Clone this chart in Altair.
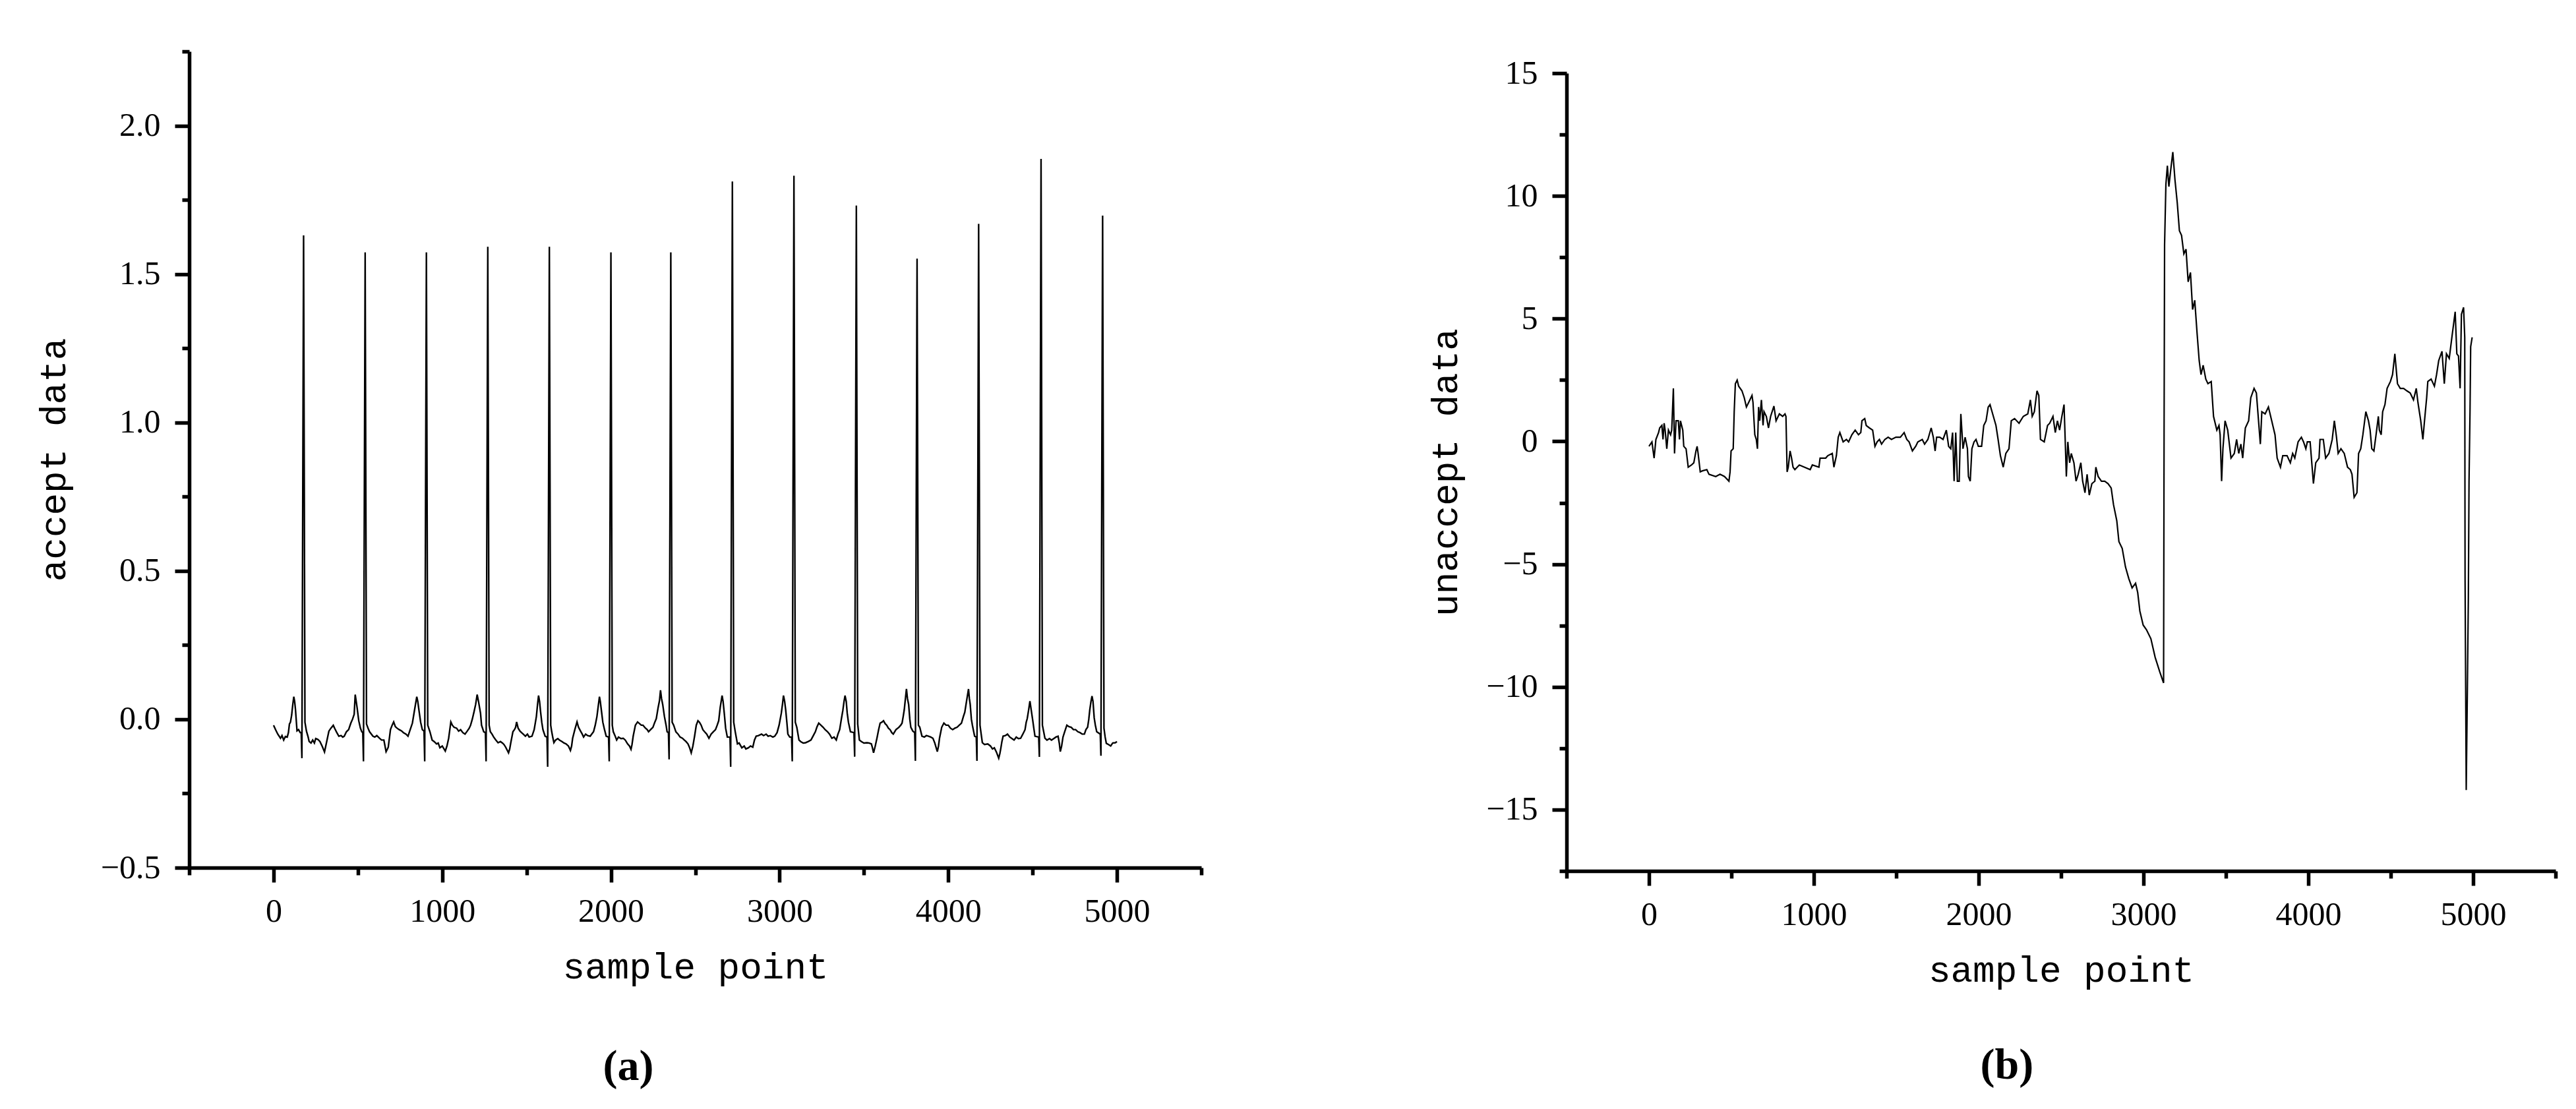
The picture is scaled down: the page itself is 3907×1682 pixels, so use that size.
import altair as alt
import pandas as pd

# ---------------- panel (a): accepted ECG segment ----------------
A_X = [
    0, 12, 25, 41, 50, 60, 70, 81, 88, 94, 100, 107, 114, 120, 125, 130, 139, 148, 158, 164, 168, 178, 186, 195,
    205, 211, 222, 232, 242, 250, 263, 275, 289, 302, 315, 328, 340, 354, 362, 375, 387, 400, 410, 419, 432, 445,
    458, 468, 478, 484, 490, 495, 505, 515, 523, 529, 533, 543, 551, 560,
    569, 580, 589, 600, 612, 628, 640, 654, 667, 675, 680, 693, 703, 712, 722, 732, 745, 758, 770, 785, 797, 810,
    823, 836, 849, 855, 862, 872, 882, 892, 896, 906, 914, 927,
    940, 952, 966, 976, 986, 1000, 1018, 1028, 1038, 1051, 1060, 1070, 1085, 1097, 1109, 1122, 1135, 1148, 1160,
    1168, 1178, 1188, 1198, 1207, 1215, 1227, 1233, 1246, 1256, 1260, 1270, 1278, 1285,
    1295, 1305, 1318, 1331, 1345, 1357, 1366, 1376, 1393, 1400, 1406, 1419, 1428, 1435, 1441, 1450, 1461, 1470,
    1480, 1493, 1505, 1515, 1532, 1545, 1558, 1565, 1571, 1577, 1582, 1590, 1597, 1610, 1621, 1625, 1635, 1643, 1649,
    1655, 1662, 1672, 1685, 1695, 1710, 1722, 1734, 1748, 1760, 1767, 1773, 1786, 1799, 1808, 1820, 1830, 1838,
    1850, 1862, 1877, 1897, 1907, 1917, 1925, 1932, 1937, 1943, 1952, 1962, 1972, 1986, 1990, 2000, 2008, 2014,
    2024, 2034, 2045, 2060, 2073, 2085, 2099, 2110, 2119, 2125, 2132, 2145, 2158, 2170, 2180, 2190, 2205, 2215,
    2223, 2235, 2249, 2260, 2269, 2280, 2288, 2294, 2300, 2307, 2317, 2327, 2333, 2341, 2345, 2355, 2363, 2372,
    2385, 2398, 2410, 2424, 2435, 2445, 2457, 2466, 2476, 2486, 2496, 2506, 2516, 2525, 2535, 2545, 2555, 2568,
    2581, 2594, 2607, 2620, 2630, 2639, 2648, 2659, 2665, 2672, 2680, 2690, 2706, 2710, 2720, 2728, 2737,
    2750, 2760, 2776, 2790, 2800, 2815, 2828, 2841, 2851, 2861, 2875, 2893, 2905, 2920, 2932, 2945, 2960, 2971,
    2985, 2997, 3010, 3017, 3023, 3030, 3036, 3043, 3049, 3060, 3071, 3075, 3085, 3093, 3102,
    3115, 3125, 3140, 3154, 3170, 3186, 3200, 3212, 3222, 3232, 3245, 3258, 3270, 3284, 3296, 3310, 3323, 3336,
    3346, 3356, 3366, 3375, 3382, 3388, 3395, 3401, 3408, 3420, 3441, 3445, 3455, 3463, 3473,
    3485, 3500, 3518, 3530, 3544, 3550, 3557, 3567, 3577, 3587, 3596, 3606, 3616, 3626, 3635, 3645, 3655, 3665,
    3674, 3690, 3707, 3718, 3726, 3733, 3739, 3746, 3752, 3758, 3765, 3772, 3778, 3790, 3801, 3805, 3815, 3823, 3831,
    3844, 3858, 3870, 3883, 3896, 3909, 3920, 3935, 3942, 3948, 3961, 3974, 3987, 4000, 4013, 4026, 4039, 4052,
    4065, 4078, 4090, 4098, 4108, 4120, 4125, 4130, 4137, 4143, 4156, 4166, 4170, 4180, 4188, 4195,
    4202, 4215, 4234, 4250, 4262, 4273, 4285, 4299, 4306, 4312, 4318, 4325, 4338, 4351, 4365, 4378, 4390, 4403,
    4416, 4429, 4442, 4455, 4462, 4468, 4476, 4484, 4492, 4501, 4507, 4514, 4536, 4540, 4550, 4558, 4565,
    4573, 4585, 4600, 4612, 4625, 4638, 4651, 4658, 4664, 4672, 4680, 4690, 4703, 4716, 4729, 4742, 4755, 4768,
    4781, 4794, 4807, 4816, 4826, 4833, 4839, 4846, 4852, 4858, 4865, 4872, 4880, 4901, 4905, 4915, 4923, 4930,
    4937, 4950, 4963, 4975, 4990, 5000,
]
A_Y = [
    -0.02, -0.035, -0.05, -0.064, -0.055, -0.07, -0.058, -0.06, -0.045, -0.016, -0.01, 0.013, 0.05, 0.076, 0.06,
    0.032, -0.039, -0.035, -0.045, -0.045, -0.131, 1.63, -0.01, -0.04,
    -0.06, -0.075, -0.08, -0.07, -0.08, -0.065, -0.068, -0.075, -0.092, -0.11, -0.075, -0.04, -0.03, -0.02, -0.03,
    -0.045, -0.057, -0.055, -0.06, -0.057, -0.042, -0.035, -0.013, 0.0, 0.017, 0.083, 0.06, 0.04, -0.005, -0.03,
    -0.042, -0.045, -0.142, 1.573, -0.016, -0.03,
    -0.042, -0.05, -0.057, -0.06, -0.055, -0.064, -0.07, -0.07, -0.109, -0.1, -0.094, -0.035, -0.02, -0.009,
    -0.025, -0.03, -0.035, -0.039, -0.045, -0.05, -0.057, -0.035, -0.013, 0.032, 0.076, 0.06, 0.03, -0.01, -0.035,
    -0.04, -0.142, 1.573, -0.02, -0.042,
    -0.07, -0.075, -0.083, -0.08, -0.096, -0.09, -0.107, -0.09, -0.064, -0.009, -0.02, -0.027, -0.03, -0.04,
    -0.035, -0.045, -0.05, -0.04, -0.03, -0.02, 0.0, 0.024, 0.05, 0.083, 0.06, 0.02, -0.02, -0.042, -0.045,
    -0.142, 1.592, -0.02, -0.042,
    -0.05, -0.06, -0.07, -0.079, -0.075, -0.08, -0.085, -0.094, -0.113, -0.1, -0.08, -0.042, -0.035, -0.027,
    -0.009, -0.03, -0.04, -0.045, -0.05, -0.057, -0.05, -0.06, -0.057, -0.035, 0.009, 0.05, 0.08, 0.06, 0.03,
    -0.01, -0.035, -0.057, -0.06, -0.16, 1.592, -0.02, -0.042,
    -0.06, -0.079, -0.07, -0.065, -0.07, -0.075, -0.08, -0.083, -0.09, -0.105, -0.09, -0.064, -0.035, -0.009,
    -0.027, -0.04, -0.05, -0.06, -0.05, -0.055, -0.057, -0.042, -0.02, 0.009, 0.045, 0.076, 0.06, 0.032, -0.01,
    -0.035, -0.057, -0.06, -0.142, 1.573, -0.02, -0.042,
    -0.055, -0.07, -0.06, -0.065, -0.064, -0.07, -0.083, -0.09, -0.101, -0.085, -0.057, -0.02, -0.009, -0.015,
    -0.02, -0.02, -0.03, -0.035, -0.042, -0.035, -0.027, -0.01, 0.002, 0.04, 0.063, 0.098, 0.07, 0.05, 0.01,
    -0.02, -0.042, -0.045, -0.135, 1.573, -0.01, -0.02,
    -0.042, -0.05, -0.06, -0.064, -0.07, -0.075, -0.083, -0.095, -0.113, -0.09, -0.057, -0.02, -0.005, -0.01,
    -0.02, -0.035, -0.042, -0.05, -0.064, -0.05, -0.042, -0.035, -0.02, -0.005, 0.04, 0.08, 0.06, 0.02, -0.03,
    -0.06, -0.06, -0.16, 1.812, -0.01, -0.042,
    -0.083, -0.08, -0.096, -0.09, -0.1, -0.096, -0.09, -0.094, -0.07, -0.057, -0.055, -0.05, -0.055, -0.05,
    -0.057, -0.055, -0.06, -0.057, -0.045, -0.02, 0.02, 0.05, 0.08, 0.06, 0.032, -0.01, -0.05, -0.06, -0.06,
    -0.142, 1.831, -0.01, -0.027,
    -0.07, -0.075, -0.08, -0.079, -0.075, -0.07, -0.055, -0.042, -0.025, -0.013, -0.02, -0.027, -0.035, -0.042,
    -0.05, -0.064, -0.06, -0.07, -0.05, -0.035, 0.0, 0.03, 0.06, 0.08, 0.06, 0.02, -0.01, -0.042, -0.045,
    -0.126, 1.731, -0.016, -0.07,
    -0.075, -0.08, -0.079, -0.08, -0.083, -0.095, -0.113, -0.09, -0.064, -0.035, -0.013, -0.01, -0.005, -0.015,
    -0.02, -0.03, -0.035, -0.045, -0.05, -0.035, -0.027, -0.02, -0.013, 0.01, 0.032, 0.07, 0.102, 0.07, 0.05,
    0.0, -0.027, -0.04, -0.045, -0.14, 1.552, -0.02, -0.027,
    -0.057, -0.06, -0.055, -0.057, -0.06, -0.064, -0.08, -0.109, -0.09, -0.064, -0.027, -0.013, -0.02, -0.02,
    -0.03, -0.035, -0.03, -0.027, -0.02, -0.013, 0.01, 0.024, 0.06, 0.102, 0.07, 0.05, 0.0, -0.02, -0.057,
    -0.06, -0.14, 1.669, -0.02, -0.05,
    -0.079, -0.085, -0.083, -0.09, -0.1, -0.096, -0.11, -0.131, -0.115, -0.096, -0.075, -0.057, -0.055, -0.05,
    -0.06, -0.065, -0.07, -0.06, -0.065, -0.064, -0.05, -0.035, -0.01, 0.002, 0.03, 0.061, 0.03, -0.005, -0.03,
    -0.057, -0.06, -0.127, 1.888, -0.02, -0.04,
    -0.064, -0.07, -0.065, -0.07, -0.065, -0.06, -0.057, -0.08, -0.109, -0.09, -0.06, -0.042, -0.02, -0.025,
    -0.027, -0.035, -0.035, -0.042, -0.045, -0.05, -0.05, -0.035, -0.027, 0.0, 0.032, 0.06, 0.078, 0.06, 0.005,
    -0.02, -0.042, -0.05, -0.123, 1.697, -0.03, -0.06,
    -0.081, -0.085, -0.09, -0.08, -0.079, -0.075,
]

# ---------------- panel (b): unaccepted segment ----------------
B_X = [
    0, 18, 31, 42, 58, 65, 78, 85, 92, 98, 108, 118, 131, 138, 148, 155, 164, 178, 185, 191, 205, 211, 225, 238,
    258, 272, 285, 292, 298, 311, 324, 351, 364, 405, 431, 458, 485, 492, 498, 511, 517, 524, 535, 544, 564, 578,
    591, 605, 625, 631, 642, 651, 658, 665, 672, 682, 692, 698, 712, 725, 738, 758, 771, 791, 811, 825, 831, 838,
    845, 856, 865, 874, 885, 912, 978, 991, 1031, 1038, 1072, 1085, 1112, 1122, 1137, 1148, 1158, 1178, 1198,
    1211, 1231, 1251, 1271, 1285, 1292, 1309, 1318, 1337, 1357, 1371, 1384, 1398, 1411, 1431, 1451, 1471, 1498,
    1525, 1548, 1564, 1578, 1598, 1618, 1631, 1658, 1672, 1692, 1712, 1725, 1736, 1745, 1764, 1784, 1804, 1818,
    1831, 1842, 1851, 1861, 1871, 1882, 1892, 1905, 1918, 1932, 1938, 1949, 1959, 1972, 1984, 1998, 2018, 2031,
    2045, 2058, 2069, 2085, 2105, 2118, 2132, 2149, 2165, 2184, 2198, 2218, 2245, 2271, 2298, 2314, 2325, 2338,
    2354, 2365, 2375, 2398, 2418, 2431, 2451, 2465, 2478, 2491, 2505, 2518, 2525, 2532, 2541, 2552, 2562, 2578,
    2591, 2604, 2620, 2631, 2645, 2658, 2671, 2687, 2705, 2711, 2725, 2745, 2765, 2785, 2804, 2818, 2838, 2851,
    2871, 2891, 2911, 2931, 2952, 2965, 2978, 2998, 3018, 3045, 3071, 3098, 3122, 3125, 3128, 3136, 3145, 3154,
    3165, 3178, 3191, 3205, 3218, 3231, 3245, 3258, 3271, 3285, 3298, 3311, 3325, 3338, 3349, 3362, 3378, 3391,
    3411, 3425, 3445, 3458, 3465, 3474, 3482, 3495, 3511, 3531, 3551, 3565, 3578, 3591, 3602, 3618, 3638, 3651,
    3671, 3685, 3698, 3709, 3718, 3738, 3758, 3778, 3798, 3811, 3831, 3845, 3871, 3891, 3905, 3918, 3938, 3958,
    3971, 3985, 3994, 4011, 4031, 4045, 4065, 4071, 4091, 4105, 4125, 4145, 4158, 4171, 4181, 4198, 4218, 4238,
    4255, 4265, 4278, 4295, 4305, 4318, 4331, 4349, 4365, 4375, 4385, 4398, 4411, 4425, 4431, 4442, 4451, 4465,
    4478, 4498, 4511, 4525, 4541, 4558, 4578, 4598, 4618, 4638, 4655, 4665, 4682, 4695, 4705, 4718, 4725, 4745,
    4765, 4778, 4791, 4811, 4825, 4838, 4855, 4871, 4891, 4901, 4911, 4921, 4929, 4942, 4949, 4951, 4958, 4965,
    4971, 4975, 4981, 4985, 4994,
]
B_Y = [
    -0.2, -0.02, -0.68, 0.08, 0.36, 0.55, 0.65, 0.08, 0.74, 0.46, -0.3, 0.46, 0.27, 0.46, 2.16, -0.49, 0.84, 0.84,
    0.08, 0.84, 0.46, -0.2, -0.3, -1.05, -0.96, -0.87, -0.39, -0.2, -0.49, -1.24, -1.2, -1.15, -1.34, -1.43, -1.34,
    -1.43, -1.62, -1.24, -0.39, -0.3, 1.21, 2.35, 2.5, 2.25, 2.06, 1.78, 1.4, 1.59, 1.87, 1.59, 0.27, 0.08, -0.3,
    1.4, 0.84, 1.69, 0.65, 1.21, 1.02, 0.55, 1.02, 1.44, 0.84, 1.12, 1.02, 1.12, 1.02, -1.24, -1.05, -0.39, -0.68,
    -1.05, -1.15, -0.96, -1.15, -0.96, -1.05, -0.68, -0.68, -0.58, -0.49, -1.05, -0.58, 0.17, 0.36, -0.02, 0.08,
    -0.02, 0.27, 0.46, 0.27, 0.36, 0.84, 0.93, 0.65, 0.55, 0.46, -0.2, -0.02, 0.08, -0.11, 0.08, 0.17, 0.08, 0.17,
    0.17, 0.36, 0.08, -0.02, -0.39, -0.2, -0.02, 0.08, -0.11, 0.08, 0.55, 0.17, -0.39, 0.17, 0.17, 0.08, 0.46,
    -0.2, -0.3, 0.36, -1.62, 0.36, -1.62, -1.62, 1.12, -0.3, 0.17, -0.3, -1.43, -1.62, -0.3, -0.02, 0.08, -0.2,
    -0.2, 0.65, 0.84, 1.4, 1.5, 1.12, 0.65, 0.08, -0.58, -1.05, -0.49, -0.3, 0.84, 0.93, 0.74, 1.02, 1.12, 1.69,
    1.02, 1.21, 2.06, 1.87, 0.08, -0.02, 0.65, 0.74, 1.02, 0.36, 0.84, 0.46, 1.02, 1.5, 0.08, -1.43, -0.02, -0.87,
    -0.49, -0.87, -1.62, -1.34, -0.87, -1.62, -2.09, -1.34, -2.19, -1.72, -1.62, -1.05, -1.43, -1.62, -1.62,
    -1.72, -1.9, -2.57, -3.23, -4.08, -4.36, -5.12, -5.59, -5.97, -5.78, -6.16, -6.91, -7.48, -7.67, -8.04, -8.8,
    -9.37, -9.84, 0.27, 8.01, 10.47, 11.23, 10.38, 11.04, 11.79, 10.66, 9.71, 8.58, 8.39, 7.64, 7.83, 6.5, 6.88,
    5.37, 5.75, 4.42, 3.29, 2.72, 3.1, 2.54, 2.35, 2.44, 1.02, 0.46, 0.65, 0.27, -1.62, -0.3, 0.84, 0.46, -0.68,
    -0.49, 0.08, -0.49, -0.11, -0.68, 0.55, 0.84, 1.78, 2.16, 1.97, 0.84, -0.11, 1.21, 1.12, 1.4, 0.84, 0.27,
    -0.68, -1.05, -0.58, -0.58, -0.87, -0.49, -0.68, -0.02, 0.17, -0.02, -0.3, -0.02, -0.02, -1.72, -0.87, -0.68,
    0.08, 0.08, -0.68, -0.49, 0.08, 0.84, 0.17, -0.49, -0.3, -0.49, -1.05, -1.15, -1.34, -2.28, -2.09, -0.49,
    -0.3, 0.27, 1.21, 0.84, 0.46, -0.3, -0.39, 0.27, 1.02, 0.46, 0.27, 1.21, 1.5, 2.16, 2.44, 2.72, 3.57, 2.35,
    2.16, 2.16, 2.06, 1.97, 1.69, 2.16, 1.59, 0.84, 0.08, 0.84, 1.78, 2.44, 2.54, 2.25, 2.72, 3.29, 3.67, 2.35,
    3.57, 3.38, 4.24, 5.28, 3.57, 3.48, 2.16, 5.18, 5.46, 4.24, -5.59, -14.2, -10.12, -6.35, -1.62, 1.21, 3.86,
    4.24,
]

X_TICKS = list(range(-500, 5501, 500))
A_Y_TICKS = [i * 0.25 for i in range(-2, 10)]
B_Y_TICKS = [i * 2.5 for i in range(-7, 7)]

LABEL_FONT = "Liberation Serif"
TITLE_FONT = "Liberation Mono"

df_a = pd.DataFrame({"x": A_X, "y": A_Y})
df_b = pd.DataFrame({"x": B_X, "y": B_Y})


def x_encoding():
    return alt.X(
        "x:Q",
        scale=alt.Scale(domain=[-500, 5500], nice=False, zero=False),
        axis=alt.Axis(
            values=X_TICKS,
            format="d",
            title="sample point",
            labelExpr="datum.value % 1000 === 0 ? datum.label : ''",
            tickSize={"condition": {"test": "datum.value % 1000 === 0", "value": 22}, "value": 11},
            labelPadding=19,
            titlePadding=32,
            labelOverlap=False,
            labelFlush=False,
        ),
    )


chart_a = (
    alt.Chart(df_a)
    .mark_line(color="black", strokeWidth=2.4)
    .encode(
        x=x_encoding(),
        y=alt.Y(
            "y:Q",
            scale=alt.Scale(domain=[-0.5, 2.25], nice=False, zero=False),
            axis=alt.Axis(
                values=A_Y_TICKS,
                format=".1f",
                title="accept data",
                labelExpr="datum.value % 0.5 === 0 ? datum.label : ''",
                tickSize={"condition": {"test": "datum.value % 0.5 === 0", "value": 22}, "value": 11},
                labelPadding=22,
                titlePadding=42,
                labelOverlap=False,
                labelFlush=False,
            ),
        ),
    )
    .properties(
        width=1535,
        height=1238,
        title=alt.TitleParams(
            "(a)", orient="bottom", anchor="middle", frame="bounds", dx=14,
            font=LABEL_FONT, fontSize=66, fontWeight="bold", color="black", offset=92,
        ),
    )
)

chart_b = (
    alt.Chart(df_b)
    .mark_line(color="black", strokeWidth=2.2)
    .encode(
        x=x_encoding(),
        y=alt.Y(
            "y:Q",
            scale=alt.Scale(domain=[-17.5, 15], nice=False, zero=False),
            axis=alt.Axis(
                values=B_Y_TICKS,
                format="d",
                title="unaccept data",
                labelExpr="datum.value % 5 === 0 ? datum.label : ''",
                tickSize={"condition": {"test": "datum.value % 5 === 0", "value": 22}, "value": 11},
                labelPadding=22,
                titlePadding=32,
                labelOverlap=False,
                labelFlush=False,
            ),
        ),
    )
    .properties(
        width=1500,
        height=1210,
        title=alt.TitleParams(
            "(b)", orient="bottom", anchor="middle", frame="bounds", dx=22,
            font=LABEL_FONT, fontSize=66, fontWeight="bold", color="black", offset=85,
        ),
    )
)

spacer = (
    alt.Chart(pd.DataFrame({"v": [0]}))
    .mark_point(opacity=0)
    .encode(x=alt.value(0), y=alt.value(0))
    .properties(width=1500, height=2)
)

panel_b = alt.vconcat(spacer, chart_b, spacing=5)

chart = (
    alt.hconcat(chart_a, panel_b, spacing=339)
    .properties(padding={"left": 45, "top": 45, "right": 5, "bottom": 5})
    .configure_axis(
        grid=False,
        domainColor="black",
        domainWidth=5.5,
        tickColor="black",
        tickWidth=5.5,
        labelFont=LABEL_FONT,
        labelFontSize=50,
        labelColor="black",
        titleFont=TITLE_FONT,
        titleFontSize=56,
        titleFontWeight="normal",
        titleColor="black",
    )
    .configure_view(stroke=None)
)

chart.save("out.html", embed_options={"renderer": "svg", "actions": False})
